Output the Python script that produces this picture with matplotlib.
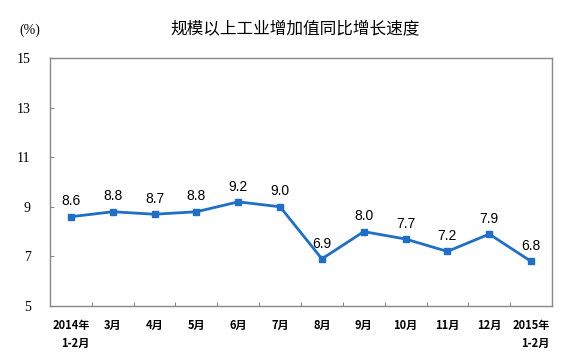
import matplotlib
matplotlib.use("Agg")
import matplotlib.pyplot as plt

plt.rcParams["font.family"] = ["Noto Sans CJK SC", "DejaVu Sans"]

months = ["2014年\n1-2月", "3月", "4月", "5月", "6月", "7月",
          "8月", "9月", "10月", "11月", "12月", "2015年\n1-2月"]
growth = [8.6, 8.8, 8.7, 8.8, 9.2, 9.0, 6.9, 8.0, 7.7, 7.2, 7.9, 6.8]
y_ticks = [5, 7, 9, 11, 13, 15]

fig = plt.figure(figsize=(5.73, 3.55), dpi=100)
ax = fig.add_axes([50 / 573, 49 / 355, 502 / 573, 248 / 355])

x = list(range(len(months)))
ax.plot(x, growth, color="#1F6FC6", linewidth=2,
        marker="s", markersize=4.5)

for xi, v in zip(x, growth):
    ax.annotate(f"{v:.1f}", (xi, v), xytext=(0, 6),
                textcoords="offset points", ha="center", va="bottom",
                fontsize=10, family="Liberation Sans")

ax.set_xlim(-0.5, len(months) - 0.5)
ax.set_ylim(5, 15)
ax.set_yticks(y_ticks)
ax.set_yticklabels([str(t) for t in y_ticks], family="Liberation Serif",
                   fontsize=10)

# tick marks between categories, labels at category centres
ax.set_xticks([i + 0.5 for i in range(len(months) - 1)])
ax.set_xticklabels([])
ax.set_xticks(x, minor=True)
ax.set_xticklabels(months, minor=True, fontsize=8, fontweight="bold",
                   multialignment="right", linespacing=1.5)
ax.tick_params(axis="x", which="minor", length=0, pad=9)
ax.tick_params(axis="x", which="major", direction="in", length=3,
               color="#888888")
ax.tick_params(axis="y", direction="in", length=3, color="#888888", pad=14)

for s in ax.spines.values():
    s.set_color("#888888")
    s.set_linewidth(1)

fig.text(295 / 573, 1 - 30 / 355, "规模以上工业增加值同比增长速度",
         ha="center", va="center", fontsize=12)
fig.text(30 / 573, 1 - 30 / 355, "(%)", ha="center", va="center",
         fontsize=10, family="Liberation Serif")

fig.savefig("out.png", dpi=100)
